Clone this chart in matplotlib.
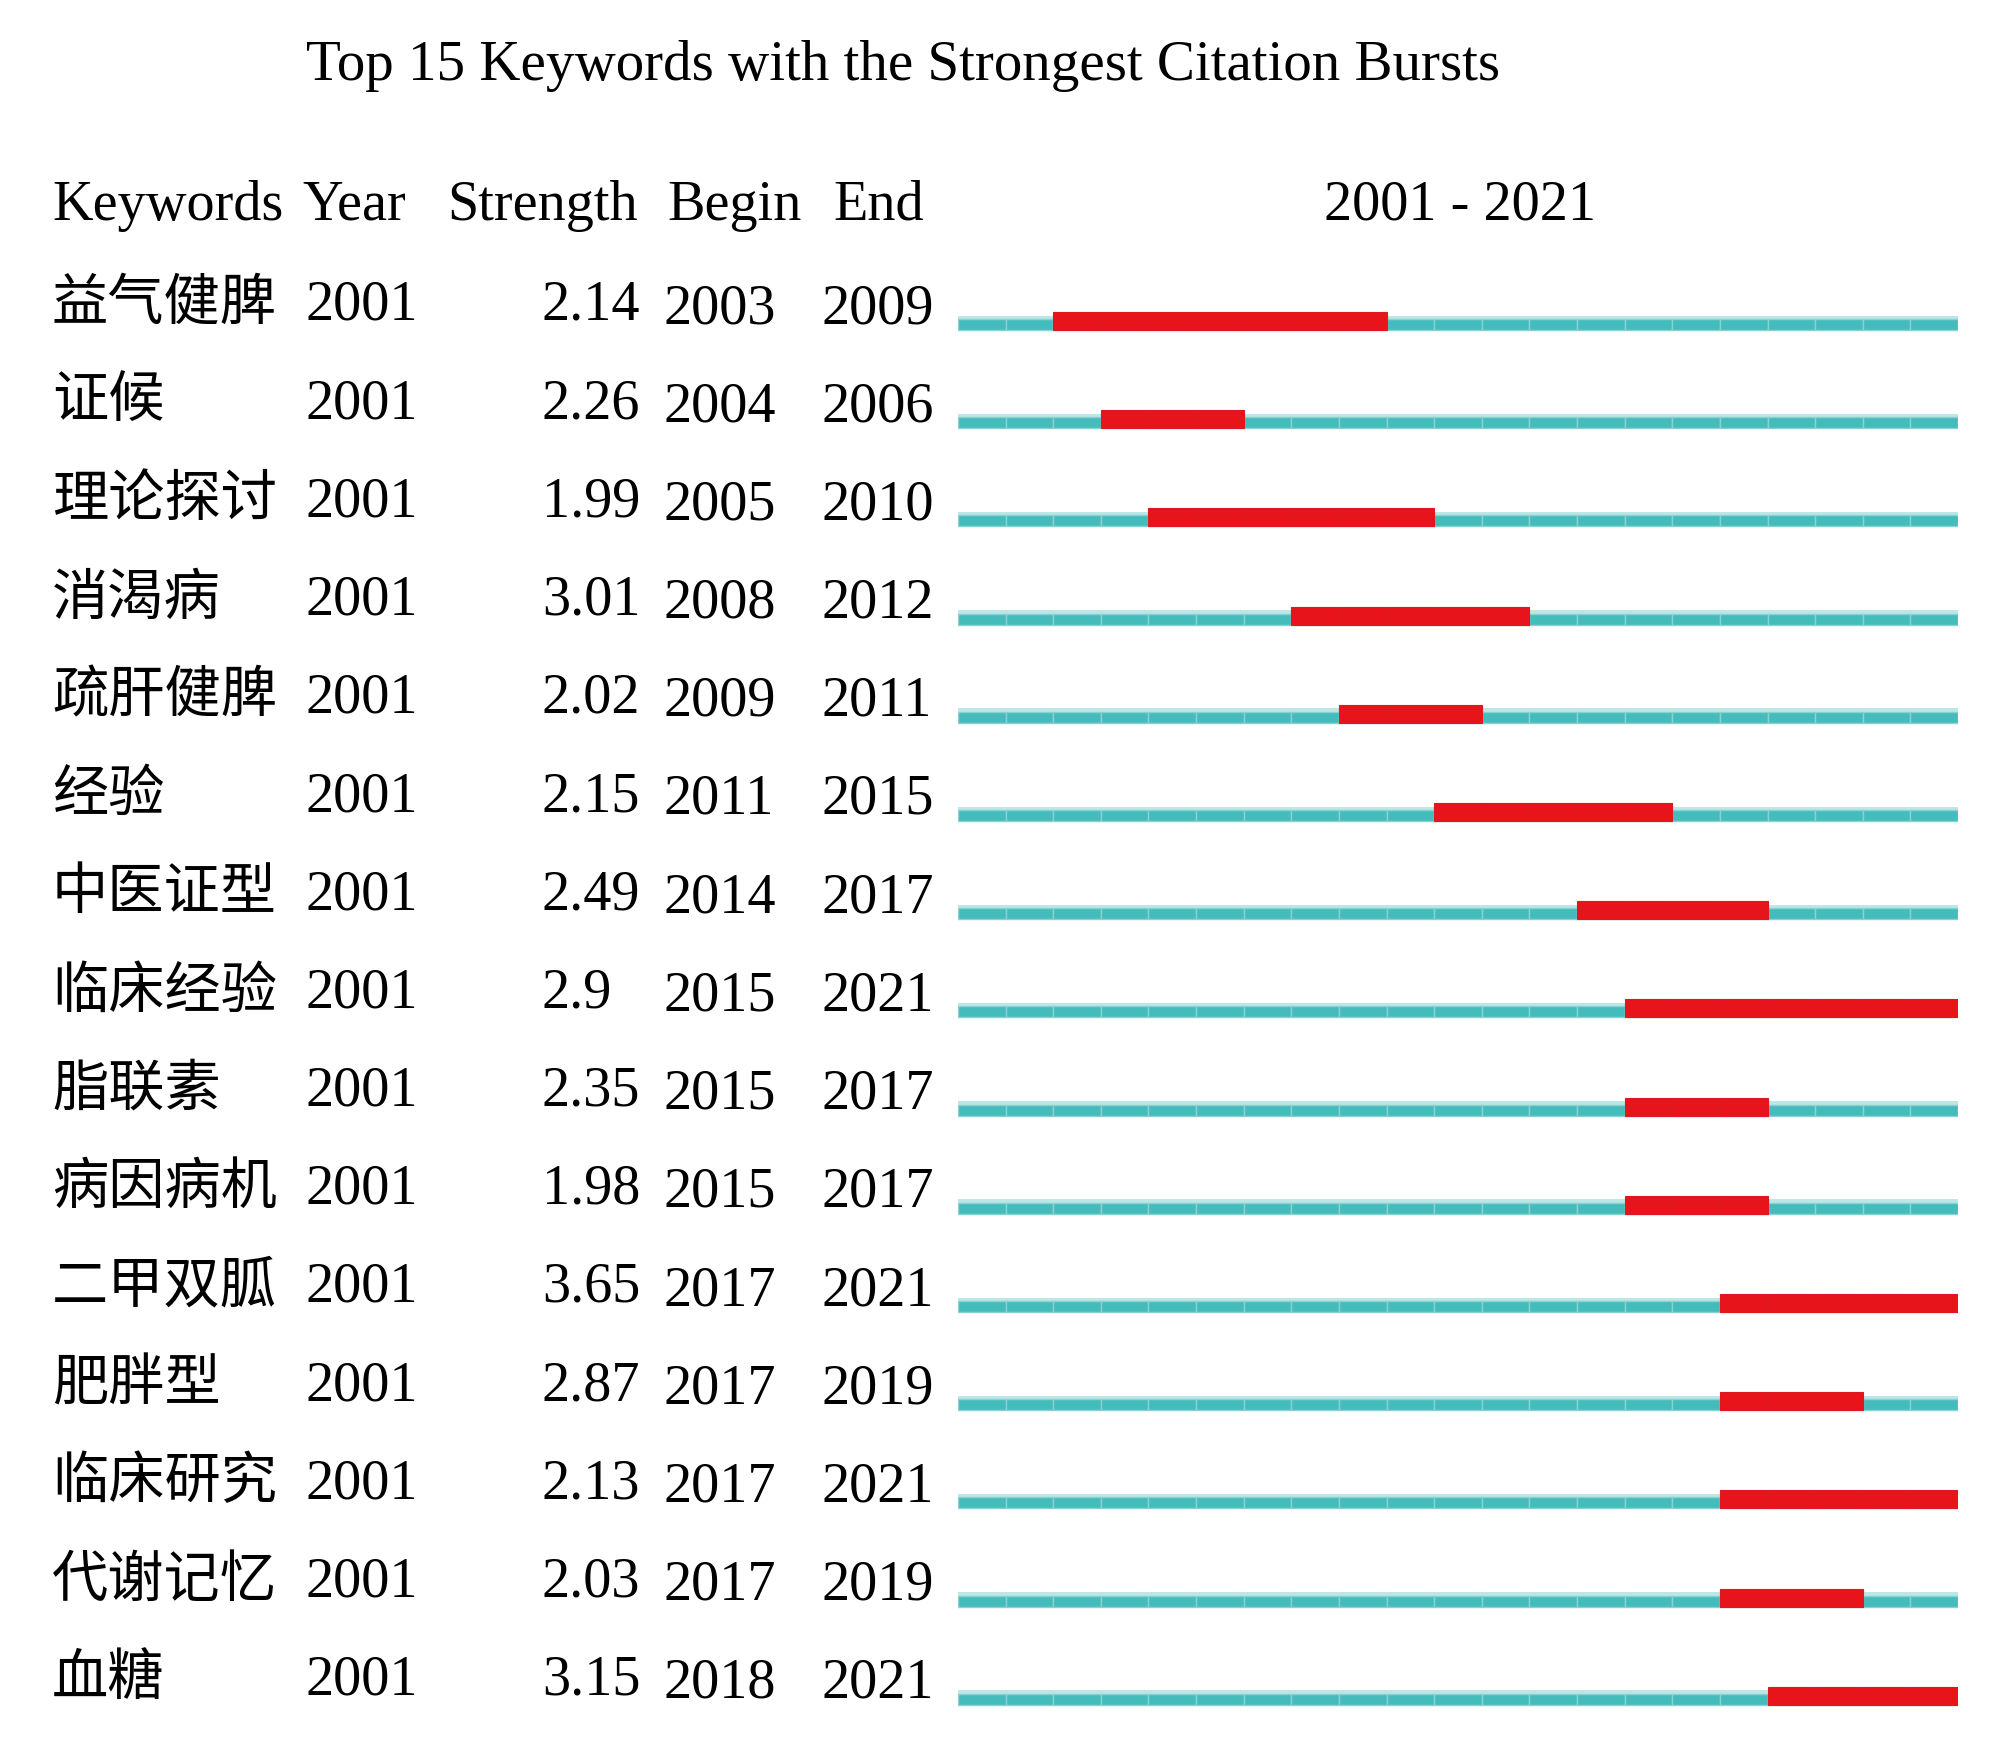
import matplotlib
matplotlib.use("Agg")
import matplotlib.pyplot as plt
import matplotlib.transforms as mtransforms

plt.rcParams['font.family'] = ['Liberation Serif', 'Noto Sans CJK SC']

# burst table
keywords = ['益气健脾', '证候', '理论探讨', '消渴病', '疏肝健脾', '经验', '中医证型', '临床经验',
            '脂联素', '病因病机', '二甲双胍', '肥胖型', '临床研究', '代谢记忆', '血糖']
year = [2001] * 15
strength = ['2.14', '2.26', '1.99', '3.01', '2.02', '2.15', '2.49', '2.9',
            '2.35', '1.98', '3.65', '2.87', '2.13', '2.03', '3.15']
begin = [2003, 2004, 2005, 2008, 2009, 2011, 2014, 2015, 2015, 2015, 2017, 2017, 2017, 2017, 2018]
end = [2009, 2006, 2010, 2012, 2011, 2015, 2017, 2021, 2017, 2017, 2021, 2019, 2021, 2019, 2021]
first_year, last_year = 2001, 2021

W, H = 2000, 1750
fig = plt.figure(figsize=(W / 100, H / 100), dpi=100)

# bar axes: row i bottom sits at pixel 330 + 98.2*i
row_h = 98.2
y_top, y_bot = -1.0, 14.4
top_px = 330 + row_h * y_top
bot_px = 330 + row_h * y_bot
ax = fig.add_axes([958 / W, 1 - bot_px / H, 1000 / W, (bot_px - top_px) / H])
ax.set_xlim(first_year, last_year + 1)
ax.set_ylim(y_bot, y_top)
ax.axis('off')

teal = '#45bcbc'
red = '#e8141c'
th_base = 11 / row_h
th_burst = 18 / row_h
yrs = list(range(first_year, last_year + 1))
for i in range(len(keywords)):
    # pale strip on top of the base line
    ax.bar(yrs[:1], [3.5 / row_h], width=last_year + 1 - first_year, align='edge',
           bottom=i - th_base - 3.5 / row_h, color='#bde6e6', linewidth=0, zorder=1)
    ax.bar(yrs, [th_base] * len(yrs), width=1, align='edge', bottom=i - th_base,
           color=teal, edgecolor='#8ad2d2', linewidth=1.0, zorder=2)
    burst = [y for y in yrs if begin[i] <= y <= end[i]]
    ax.bar(burst, [th_burst] * len(burst), width=1, align='edge', bottom=i - th_burst,
           color=red, edgecolor='#dc1820', linewidth=0.8, zorder=3)

fs = 40.5
tr = mtransforms.blended_transform_factory(fig.transFigure, ax.transData)
base = -10 / row_h
for i in range(len(keywords)):
    ax.text(52 / W, i + base, keywords[i], transform=tr, fontsize=fs, va='baseline', ha='left')
    ax.text(306 / W, i + base, str(year[i]), transform=tr, fontsize=fs, va='baseline', ha='left')
    ax.text(542 / W, i + base, strength[i], transform=tr, fontsize=fs, va='baseline', ha='left')
    ax.text(664 / W, i + base + 3 / row_h, str(begin[i]), transform=tr, fontsize=fs, va='baseline', ha='left')
    ax.text(821 / W, i + base + 3 / row_h, str(end[i]), transform=tr, fontsize=fs, va='baseline', ha='left')

# header row
hy = 1 - 220 / H
fig.text(52 / W, hy, 'Keywords', fontsize=fs, va='baseline', ha='left')
fig.text(302 / W, hy, 'Year', fontsize=fs, va='baseline', ha='left')
fig.text(447 / W, hy, 'Strength', fontsize=fs, va='baseline', ha='left')
fig.text(667 / W, hy, 'Begin', fontsize=fs, va='baseline', ha='left')
fig.text(833 / W, hy, 'End', fontsize=fs, va='baseline', ha='left')
fig.text(1460 / W, hy, '%d - %d' % (first_year, last_year), fontsize=fs, va='baseline', ha='center')

fig.text(903 / W, 1 - 80 / H, 'Top 15 Keywords with the Strongest Citation Bursts',
         fontsize=41, va='baseline', ha='center')

fig.savefig('out.png', dpi=100, facecolor='white')
